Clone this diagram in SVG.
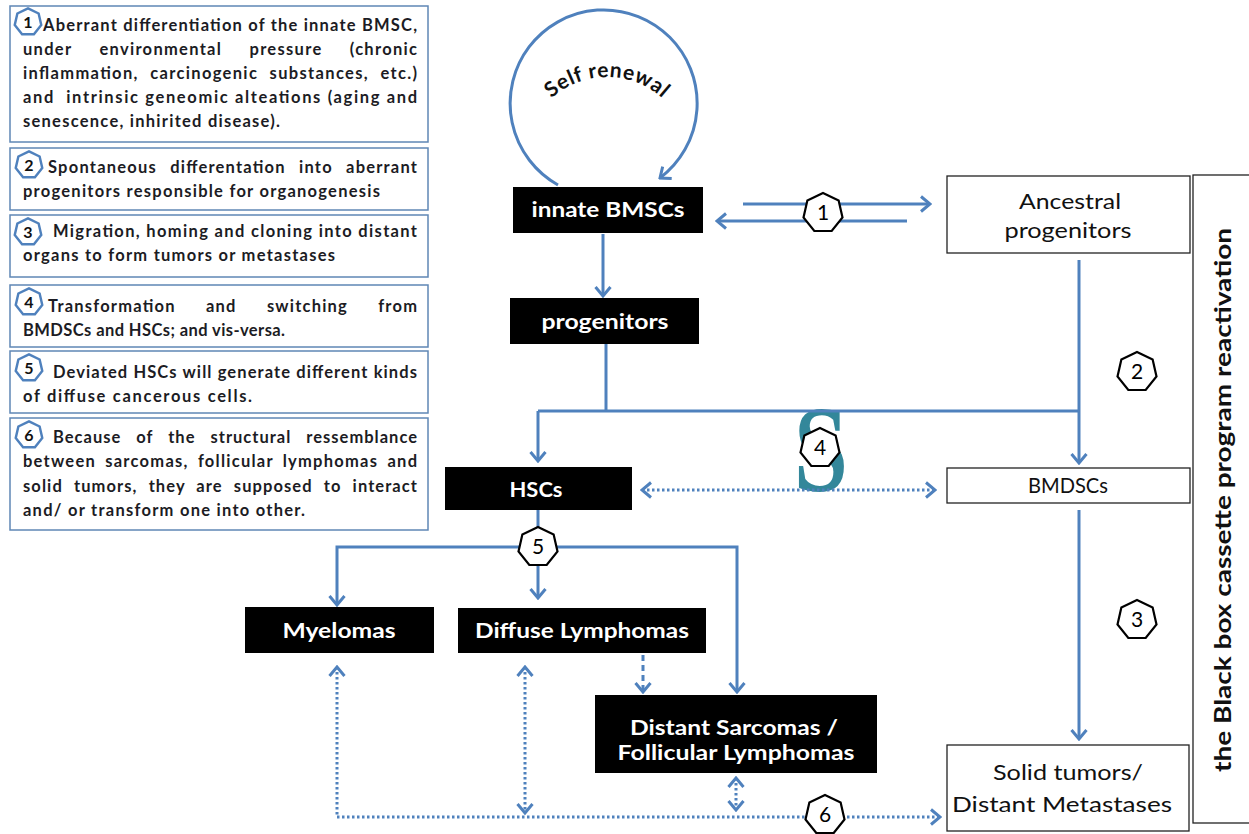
<svg xmlns="http://www.w3.org/2000/svg" xmlns:xlink="http://www.w3.org/1999/xlink" width="1249" height="834" viewBox="0 0 1249 834">
<style>
.lb{fill:#fff;stroke:#5f87b5;stroke-width:1.5}
.lt{font-family:Lato,"Open Sans",sans-serif;font-weight:bold;font-size:16.5px;fill:#1c1c24}
.ln{font-family:Lato,"Open Sans",sans-serif;font-weight:bold;font-size:16px;fill:#111;text-anchor:middle}
.lh{fill:#fff;stroke:#4f81bd;stroke-width:3.6}
.bb{fill:#000}
.bt{font-family:Lato,"Open Sans",sans-serif;font-weight:bold;font-size:20px;fill:#fff;text-anchor:middle}
.wb{fill:#fff;stroke:#222;stroke-width:1.3}
.wt{font-family:Lato,"Open Sans",sans-serif;font-size:22px;fill:#111;text-anchor:middle}
.c{fill:none;stroke:#4f81bd;stroke-width:3}
.d{fill:none;stroke:#4f81bd;stroke-width:3;stroke-dasharray:2.5 2.5}
.ds{fill:none;stroke:#4f81bd;stroke-width:3;stroke-dasharray:6 4}
.hp{fill:#fff;stroke:#000;stroke-width:2.2}
.hn{font-family:Lato,"Open Sans",sans-serif;font-size:21px;fill:#000;text-anchor:middle}
</style>
<defs>
<polygon id="hept" points="0,-20 15.64,-12.47 19.5,4.45 8.68,18.02 -8.68,18.02 -19.5,4.45 -15.64,-12.47"/>
<marker id="ar" viewBox="-12 -10 14 20" refX="0" refY="0" markerWidth="14" markerHeight="20" markerUnits="userSpaceOnUse" orient="auto-start-reverse">
<path d="M-9,-7.5 L0,0 L-9,7.5" fill="none" stroke="#4f81bd" stroke-width="3"/>
</marker>
<path id="srp" d="M524,160 A83,83 0 0 1 690,160"/>
</defs>

<g id="legend">
<g id="legend1">
<rect class="lb" x="10" y="6" width="418" height="136"/>
<use href="#hept" class="lh" transform="translate(28,22) scale(0.68)"/>
<text class="ln" x="28" y="28">1</text>
<text class="lt" x="43" y="31" textLength="374" lengthAdjust="spacing">Aberrant differentiation of the innate BMSC,</text>
<text class="lt" x="23" y="55" textLength="394" lengthAdjust="spacing" word-spacing="22">under environmental pressure (chronic</text>
<text class="lt" x="23" y="79" textLength="394" lengthAdjust="spacing" word-spacing="6">inflammation, carcinogenic substances, etc.)</text>
<text class="lt" x="23" y="103" textLength="394" lengthAdjust="spacing" xml:space="preserve">and  intrinsic geneomic alteations (aging and</text>
<text class="lt" x="23" y="127" textLength="257" lengthAdjust="spacing">senescence, inhirited disease).</text>
</g>
<g id="legend2">
<rect class="lb" x="10" y="148" width="418" height="62"/>
<use href="#hept" class="lh" transform="translate(29,165) scale(0.68)"/>
<text class="ln" x="29" y="171">2</text>
<text class="lt" x="48" y="173" textLength="369" lengthAdjust="spacing" word-spacing="8">Spontaneous differentation into aberrant</text>
<text class="lt" x="23" y="197" textLength="357" lengthAdjust="spacing">progenitors responsible for organogenesis</text>
</g>
<g id="legend3">
<rect class="lb" x="10" y="215" width="418" height="62"/>
<use href="#hept" class="lh" transform="translate(28,232) scale(0.68)"/>
<text class="ln" x="28" y="238">3</text>
<text class="lt" x="53" y="237" textLength="364" lengthAdjust="spacing">Migration, homing and cloning into distant</text>
<text class="lt" x="23" y="261" textLength="312" lengthAdjust="spacing">organs to form tumors or metastases</text>
</g>
<g id="legend4">
<rect class="lb" x="10" y="285" width="418" height="62"/>
<use href="#hept" class="lh" transform="translate(29,302) scale(0.68)"/>
<text class="ln" x="29" y="308">4</text>
<text class="lt" x="48" y="312" textLength="369" lengthAdjust="spacing" word-spacing="25">Transformation and switching from</text>
<text class="lt" x="23" y="336" textLength="262" lengthAdjust="spacing">BMDSCs and HSCs; and vis-versa.</text>
</g>
<g id="legend5">
<rect class="lb" x="10" y="351" width="418" height="62"/>
<use href="#hept" class="lh" transform="translate(29,368) scale(0.68)"/>
<text class="ln" x="29" y="374">5</text>
<text class="lt" x="53" y="378" textLength="364" lengthAdjust="spacing">Deviated HSCs will generate different kinds</text>
<text class="lt" x="23" y="402" textLength="229" lengthAdjust="spacing">of diffuse cancerous cells.</text>
</g>
<g id="legend6">
<rect class="lb" x="10" y="418" width="418" height="112"/>
<use href="#hept" class="lh" transform="translate(29,435) scale(0.68)"/>
<text class="ln" x="29" y="441">6</text>
<text class="lt" x="53" y="443" textLength="364" lengthAdjust="spacing" word-spacing="10">Because of the structural ressemblance</text>
<text class="lt" x="23" y="467" textLength="394" lengthAdjust="spacing" word-spacing="4">between sarcomas, follicular lymphomas and</text>
<text class="lt" x="23" y="492" textLength="394" lengthAdjust="spacing" word-spacing="6">solid tumors, they are supposed to interact</text>
<text class="lt" x="23" y="516" textLength="282" lengthAdjust="spacing">and/ or transform one into other.</text>
</g>
</g>

<text id="s-mark" transform="translate(821,491) scale(0.8,1)" font-family="'Liberation Serif',serif" font-weight="bold" font-size="122" fill="#33879a" text-anchor="middle">S</text>

<g id="connectors">
<path class="c" d="M558,185 A93.5,93.5 0 1 1 660,178" marker-end="url(#ar)"/>
<path class="c" d="M603,234 L603,296" marker-end="url(#ar)"/>
<path class="c" d="M606,344 L606,411"/>
<path class="c" d="M538,411 L1079,411"/>
<path class="c" d="M538,411 L538,461" marker-end="url(#ar)"/>
<path class="c" d="M1079,260 L1079,463" marker-end="url(#ar)"/>
<path class="c" d="M1079,510 L1079,739" marker-end="url(#ar)"/>
<path class="c" d="M743,204 L930,204" marker-end="url(#ar)"/>
<path class="c" d="M907,221 L717,221" marker-end="url(#ar)"/>
<path class="c" d="M538,510 L538,547"/>
<path class="c" d="M337,605 L337,547 L737,547 L737,692" marker-start="url(#ar)" marker-end="url(#ar)"/>
<path class="c" d="M538,560 L538,598" marker-end="url(#ar)"/>
<path class="ds" d="M643,655 L643,692" marker-end="url(#ar)"/>
<path class="d" d="M642,490 L935,490" marker-start="url(#ar)" marker-end="url(#ar)"/>
<path class="d" d="M337,667 L337,817 L940,817" marker-start="url(#ar)" marker-end="url(#ar)"/>
<path class="d" d="M525,667 L525,813" marker-start="url(#ar)" marker-end="url(#ar)"/>
<path class="d" d="M736,778 L736,810" marker-start="url(#ar)" marker-end="url(#ar)"/>
</g>

<text id="self-renewal" font-family="Lato,'Open Sans',sans-serif" font-weight="bold" font-size="21" fill="#111" letter-spacing="0.6"><textPath href="#srp" startOffset="50%" text-anchor="middle">Self renewal</textPath></text>

<g id="innate-bmscs">
<rect class="bb" x="513" y="187" width="190" height="46"/>
<text class="bt" x="608" y="217" textLength="153" lengthAdjust="spacingAndGlyphs">innate BMSCs</text>
</g>
<g id="progenitors">
<rect class="bb" x="510" y="298" width="189" height="46"/>
<text class="bt" x="605" y="329" textLength="127" lengthAdjust="spacingAndGlyphs">progenitors</text>
</g>
<g id="hscs">
<rect class="bb" x="445" y="467" width="187" height="43"/>
<text class="bt" x="536" y="497" textLength="53" lengthAdjust="spacingAndGlyphs">HSCs</text>
</g>
<g id="myelomas">
<rect class="bb" x="245" y="607" width="189" height="46"/>
<text class="bt" x="339" y="638" textLength="113" lengthAdjust="spacingAndGlyphs">Myelomas</text>
</g>
<g id="diffuse-lymphomas">
<rect class="bb" x="458" y="608" width="248" height="45"/>
<text class="bt" x="582" y="638" textLength="214" lengthAdjust="spacingAndGlyphs">Diffuse Lymphomas</text>
</g>
<g id="distant-sarcomas">
<rect class="bb" x="595" y="695" width="282" height="78"/>
<text class="bt" x="734" y="735" textLength="208" lengthAdjust="spacingAndGlyphs">Distant Sarcomas /</text>
<text class="bt" x="736" y="760" textLength="237" lengthAdjust="spacingAndGlyphs">Follicular Lymphomas</text>
</g>
<g id="ancestral-progenitors">
<rect class="wb" x="947" y="176" width="243" height="77"/>
<text class="wt" x="1070" y="209" textLength="102" lengthAdjust="spacingAndGlyphs">Ancestral</text>
<text class="wt" x="1068" y="238" textLength="127" lengthAdjust="spacingAndGlyphs">progenitors</text>
</g>
<g id="bmdscs">
<rect class="wb" x="947" y="468" width="243" height="35"/>
<text class="wt" x="1068" y="493" textLength="80" lengthAdjust="spacingAndGlyphs">BMDSCs</text>
</g>
<g id="solid-tumors">
<rect class="wb" x="947" y="745" width="242" height="86"/>
<text class="wt" x="1068" y="780" textLength="150" lengthAdjust="spacingAndGlyphs">Solid tumors/</text>
<text class="wt" x="1062" y="812" textLength="220" lengthAdjust="spacingAndGlyphs">Distant Metastases</text>
</g>
<g id="black-box">
<rect class="wb" x="1193" y="175" width="60" height="648"/>
<text transform="translate(1231,500) rotate(-90)" font-family="Lato,'Open Sans',sans-serif" font-weight="bold" font-size="23" fill="#111" text-anchor="middle" textLength="544" lengthAdjust="spacingAndGlyphs">the Black box cassette program reactivation</text>
</g>

<g id="step-markers">
<g id="h1"><use href="#hept" class="hp" x="823" y="213"/><text class="hn" x="823" y="220">1</text></g>
<g id="h2"><use href="#hept" class="hp" x="1137" y="372"/><text class="hn" x="1137" y="379">2</text></g>
<g id="h3"><use href="#hept" class="hp" x="1137" y="620"/><text class="hn" x="1137" y="627">3</text></g>
<g id="h4"><use href="#hept" class="hp" x="820" y="448"/><text class="hn" x="820" y="455">4</text></g>
<g id="h5"><use href="#hept" class="hp" x="538" y="547"/><text class="hn" x="538" y="554">5</text></g>
<g id="h6"><use href="#hept" class="hp" x="825" y="815"/><text class="hn" x="825" y="822">6</text></g>
</g>
</svg>
